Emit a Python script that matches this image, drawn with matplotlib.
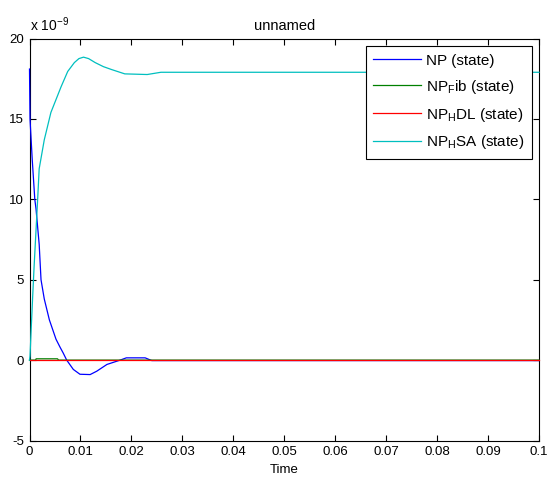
import matplotlib
matplotlib.use("Agg")
import matplotlib.pyplot as plt

plt.rcParams['font.family'] = ['Liberation Sans', 'DejaVu Sans']
plt.rcParams['mathtext.default'] = 'regular'
plt.rcParams['axes.unicode_minus'] = False
plt.rcParams['font.size'] = 9.5

# values in units of 1e-9
t_np = [0, 0.0001, 0.00053, 0.00104, 0.00128, 0.0019, 0.00226, 0.0029, 0.0039,
        0.0052, 0.0060, 0.0066, 0.0073, 0.0086, 0.0099, 0.0119, 0.0132, 0.0152,
        0.0178, 0.0190, 0.0227, 0.0240, 0.1]
np_state = [18.1, 15.0, 12.5, 10.0, 9.4, 7.2, 5.0, 3.8, 2.5,
            1.3, 0.8, 0.45, 0.0, -0.58, -0.88, -0.9, -0.69, -0.27,
            0.0, 0.14, 0.14, -0.03, -0.03]

t_fib = [0, 0.0012, 0.0013, 0.0055, 0.0057, 0.1]
np_fib = [0, 0, 0.08, 0.08, 0, 0]

t_hdl = [0, 0.1]
np_hdl = [0, 0]

t_hsa = [0, 0.0001, 0.0003, 0.0006, 0.0009, 0.0016, 0.0019, 0.0029, 0.0042,
         0.0062, 0.0075, 0.0088, 0.0097, 0.0106, 0.0116, 0.0129, 0.0145, 0.0161,
         0.0187, 0.0231, 0.0258, 0.1]
np_hsa = [0, 0.24, 1.7, 3.8, 5.8, 10.0, 11.9, 13.7, 15.4,
          17.0, 17.95, 18.5, 18.75, 18.84, 18.75, 18.5, 18.25, 18.07,
          17.8, 17.76, 17.9, 17.9]

labels = ['NP (state)', 'NP$_F$ib (state)', 'NP$_H$DL (state)', 'NP$_H$SA (state)']
colors = [(0, 0, 1), (0, 0.5, 0), (1, 0, 0), (0, 0.75, 0.75)]

fig = plt.figure(figsize=(5.47, 4.79), dpi=100)
ax = fig.add_axes([29.5 / 547, 38.5 / 479, 509.5 / 547, 402 / 479])

for tt, vv, lab, c in zip([t_np, t_fib, t_hdl, t_hsa],
                          [np_state, np_fib, np_hdl, np_hsa], labels, colors):
    ax.plot(tt, vv, color=c, lw=0.9, label=lab, zorder=3, clip_on=False)

ax.set_xlim(0, 0.1)
ax.set_ylim(-5, 20)
ax.set_xticks([i / 100 for i in range(11)])
ax.set_xticklabels(['0', '0.01', '0.02', '0.03', '0.04', '0.05', '0.06',
                    '0.07', '0.08', '0.09', '0.1'])
ax.set_yticks([-5, 0, 5, 10, 15, 20])
ax.tick_params(direction='in', top=True, right=True, length=4, width=0.8,
               colors='black', labelsize=9.5, pad=4)
for s in ax.spines.values():
    s.set_linewidth(0.8)

ax.set_title('unnamed', fontsize=10.5, pad=6)
ax.set_xlabel('Time', fontsize=9.5, labelpad=4)
ax.text(0, 1.012, 'x 10$^{-9}$', transform=ax.transAxes, fontsize=10,
        ha='left', va='bottom')

leg = ax.legend(loc='upper right', bbox_to_anchor=(532 / 547, 1 - 46 / 479),
                bbox_transform=fig.transFigure, borderaxespad=0, fancybox=False,
                edgecolor='black', framealpha=1, handlelength=3.1,
                handletextpad=0.35, labelspacing=0.65, borderpad=0.5,
                fontsize=11)
leg.get_frame().set_linewidth(0.8)
leg.set_zorder(5)

fig.savefig('out.png', dpi=100)
